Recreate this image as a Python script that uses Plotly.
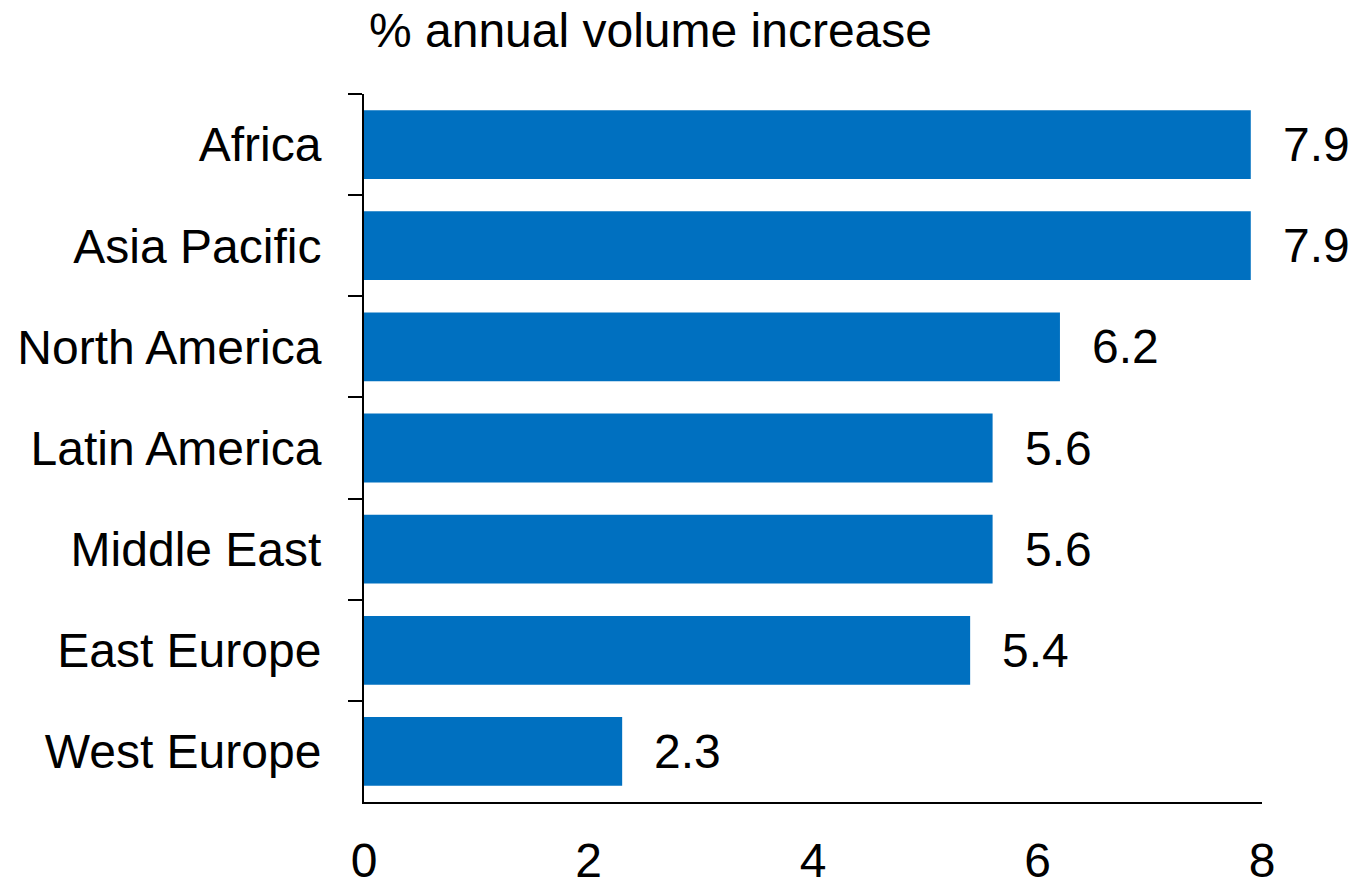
import plotly.graph_objects as go

categories = ["Africa", "Asia Pacific", "North America", "Latin America",
              "Middle East", "East Europe", "West Europe"]
values = [7.9, 7.9, 6.2, 5.6, 5.6, 5.4, 2.3]
value_labels = ["7.9", "7.9", "6.2", "5.6", "5.6", "5.4", "2.3"]
x_ticks = [0, 2, 4, 6, 8]
title_text = "% annual volume increase"

FONT = "Liberation Sans, Arial, sans-serif"
BAR_COLOR = "#0070C0"
FS = 48

fig = go.Figure()
fig.add_trace(go.Bar(
    x=values, y=categories, orientation="h",
    marker=dict(color=BAR_COLOR, line=dict(width=0)),
    width=0.68, hoverinfo="skip",
))

for c, v, t in zip(categories, values, value_labels):
    fig.add_annotation(x=v, y=c, text=t, showarrow=False, xanchor="left",
                       yanchor="middle", xshift=30,
                       font=dict(family=FONT, size=FS, color="black"))

fig.add_annotation(text=title_text, xref="paper", yref="paper",
                   x=0, y=1, xanchor="left", yanchor="middle",
                   xshift=3, yshift=64, showarrow=False,
                   font=dict(family=FONT, size=FS, color="black"))

fig.update_layout(
    width=1352, height=881,
    margin=dict(l=364, r=90, t=94, b=79, pad=0),
    paper_bgcolor="white", plot_bgcolor="white",
    showlegend=False,
    font=dict(family=FONT, size=FS, color="black"),
    bargap=0.32,
)
fig.update_yaxes(
    categoryorder="array", categoryarray=categories, autorange="reversed",
    showline=True, linecolor="black", linewidth=2,
    ticks="outside", ticklen=14, tickwidth=1.5, tickcolor="black",
    tickson="boundaries", showgrid=False, zeroline=False, automargin=False,
    ticklabelstandoff=31, tickfont=dict(family=FONT, size=FS),
)
fig.update_xaxes(
    range=[0, 8], tickvals=x_ticks, ticktext=[str(t) for t in x_ticks],
    showline=True, linecolor="black", linewidth=2,
    ticks="", showgrid=False, zeroline=False, automargin=False,
    ticklabelstandoff=15, tickfont=dict(family=FONT, size=FS),
)

fig.write_html(
    "out.html",
    config={"displayModeBar": False},
    post_script="document.body.style.margin='0';document.body.style.overflow='hidden';",
)
